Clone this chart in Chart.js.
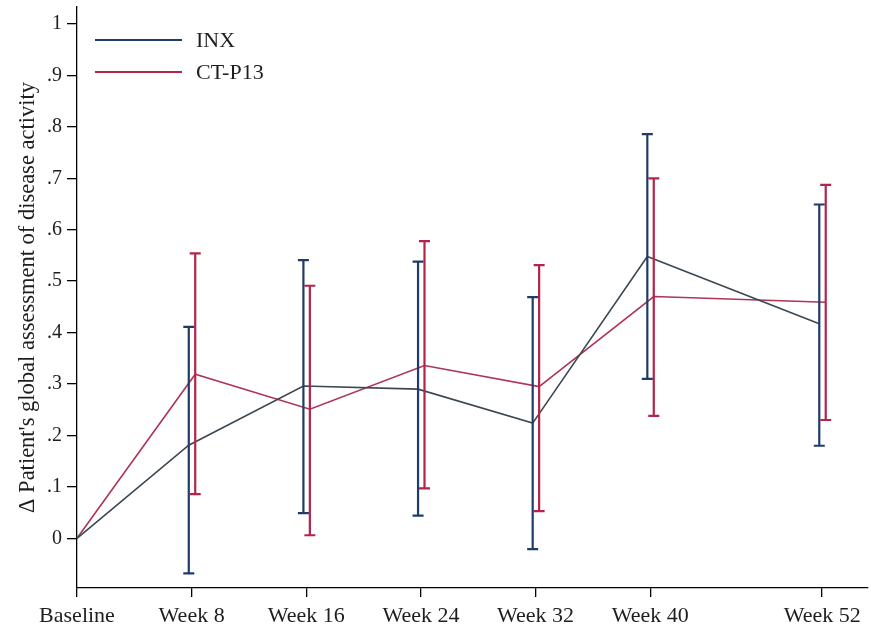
<!DOCTYPE html>
<html>
<head>
<meta charset="utf-8">
<script src="https://cdn.jsdelivr.net/npm/chart.js@4/dist/chart.umd.min.js"></script>
<style>
  html, body { margin: 0; padding: 0; background: #ffffff; }
  #wrap { width: 871px; height: 628px; }
</style>
</head>
<body>
<div id="wrap"><canvas id="c" width="871" height="628"></canvas></div>
<script>
// ---- data ----
const weeks = [0, 8, 16, 24, 32, 40, 52];
const weekLabels = ['Baseline', 'Week 8', 'Week 16', 'Week 24', 'Week 32', 'Week 40', 'Week 52'];
const seriesNames = ['INX', 'CT-P13'];
const inxMean = [0, 0.181, 0.296, 0.290, 0.224, 0.548, 0.417];
const inxLow  = [null, -0.068, 0.049, 0.044, -0.021, 0.310, 0.180];
const inxHigh = [null, 0.411, 0.541, 0.538, 0.469, 0.786, 0.649];
const ctMean  = [0, 0.319, 0.251, 0.336, 0.295, 0.470, 0.459];
const ctLow   = [null, 0.086, 0.006, 0.097, 0.053, 0.238, 0.230];
const ctHigh  = [null, 0.554, 0.491, 0.578, 0.531, 0.700, 0.687];
const yTickValues = [0, 0.1, 0.2, 0.3, 0.4, 0.5, 0.6, 0.7, 0.8, 0.9, 1];

// ---- styling ----
const FONT = '"Liberation Serif", "Times New Roman", serif';
const TEXT = '#1e1e1e';
const INX_BAR = '#1f3c69';
const INX_LINE = '#3a4853';
const CT_BAR = '#b3234a';
const CT_LINE = '#ad3556';
const OFFSET = { INX: -0.2, CT: 0.25 };

function pts(mean, off) {
  return weeks.map((w, i) => ({ x: w === 0 ? w : w + off, y: mean[i] }));
}

const errorBars = [
  { low: inxLow, high: inxHigh, off: OFFSET.INX, color: INX_BAR },
  { low: ctLow, high: ctHigh, off: OFFSET.CT, color: CT_BAR }
];

const errorBarPlugin = {
  id: 'errorBars',
  afterDatasetsDraw(chart) {
    const { ctx, scales: { x, y } } = chart;
    ctx.save();
    errorBars.forEach(s => {
      ctx.strokeStyle = s.color;
      ctx.lineWidth = 2.2;
      s.low.forEach((lo, i) => {
        if (lo === null) return;
        const px = x.getPixelForValue(weeks[i] + s.off);
        const y1 = y.getPixelForValue(lo);
        const y2 = y.getPixelForValue(s.high[i]);
        ctx.beginPath();
        ctx.moveTo(px, y1); ctx.lineTo(px, y2);
        ctx.moveTo(px - 5.5, y1); ctx.lineTo(px + 5.5, y1);
        ctx.moveTo(px - 5.5, y2); ctx.lineTo(px + 5.5, y2);
        ctx.stroke();
      });
    });
    ctx.restore();
  }
};

const legendPlugin = {
  id: 'innerLegend',
  afterDraw(chart) {
    const { ctx, chartArea } = chart;
    const colors = [INX_BAR, CT_BAR];
    ctx.save();
    ctx.font = '22px ' + FONT;
    ctx.textBaseline = 'middle';
    ctx.fillStyle = TEXT;
    chart.data.datasets.forEach((ds, i) => {
      const yy = chartArea.top + 33 + i * 32;
      const x0 = chartArea.left + 18;
      ctx.strokeStyle = colors[i];
      ctx.lineWidth = 2.2;
      ctx.beginPath();
      ctx.moveTo(x0, yy); ctx.lineTo(x0 + 87, yy);
      ctx.stroke();
      ctx.fillText(ds.label, x0 + 101, yy + 1);
    });
    ctx.restore();
  }
};

new Chart(document.getElementById('c'), {
  type: 'line',
  data: {
    datasets: [
      { label: seriesNames[0], data: pts(inxMean, OFFSET.INX), borderColor: INX_LINE, borderWidth: 1.6, pointRadius: 0, fill: false, tension: 0 },
      { label: seriesNames[1], data: pts(ctMean, OFFSET.CT), borderColor: CT_LINE, borderWidth: 1.6, pointRadius: 0, fill: false, tension: 0 }
    ]
  },
  options: {
    responsive: false,
    animation: false,
    clip: false,
    layout: { padding: { top: 7, right: 3, left: 0, bottom: 0 } },
    plugins: { legend: { display: false }, tooltip: { enabled: false } },
    scales: {
      x: {
        type: 'linear',
        min: 0,
        max: 55.2,
        afterBuildTicks: s => { s.ticks = weeks.map(v => ({ value: v })); },
        afterFit: s => { s.height = 40; s.paddingLeft = 0; s.paddingRight = 0; },
        ticks: {
          autoSkip: false, maxRotation: 0, padding: 6,
          color: TEXT, font: { family: FONT, size: 22 },
          callback: v => weekLabels[weeks.indexOf(v)]
        },
        grid: { drawOnChartArea: false, drawTicks: true, tickLength: 9, color: '#000', lineWidth: 1.3 },
        border: { color: '#000', width: 1.3 }
      },
      y: {
        type: 'linear',
        min: -0.0966,
        max: 1.033,
        afterBuildTicks: s => { s.ticks = yTickValues.map(v => ({ value: v })); },
        afterFit: s => { s.width = 77; s.paddingTop = 0; s.paddingBottom = 0; },
        ticks: {
          padding: 5, color: TEXT, font: { family: FONT, size: 20 },
          callback: v => (v === 0 ? '0' : v === 1 ? '1' : '.' + Math.round(v * 10))
        },
        grid: { drawOnChartArea: false, drawTicks: true, tickLength: 10, color: '#000', lineWidth: 1.3 },
        border: { color: '#000', width: 1.3 },
        title: {
          display: true,
          text: '\u0394 Patient\'s global assessment of disease activity',
          color: TEXT,
          font: { family: FONT, size: 22.5 },
          padding: { top: 15, bottom: 0 }
        }
      }
    }
  },
  plugins: [errorBarPlugin, legendPlugin]
});
</script>
</body>
</html>
